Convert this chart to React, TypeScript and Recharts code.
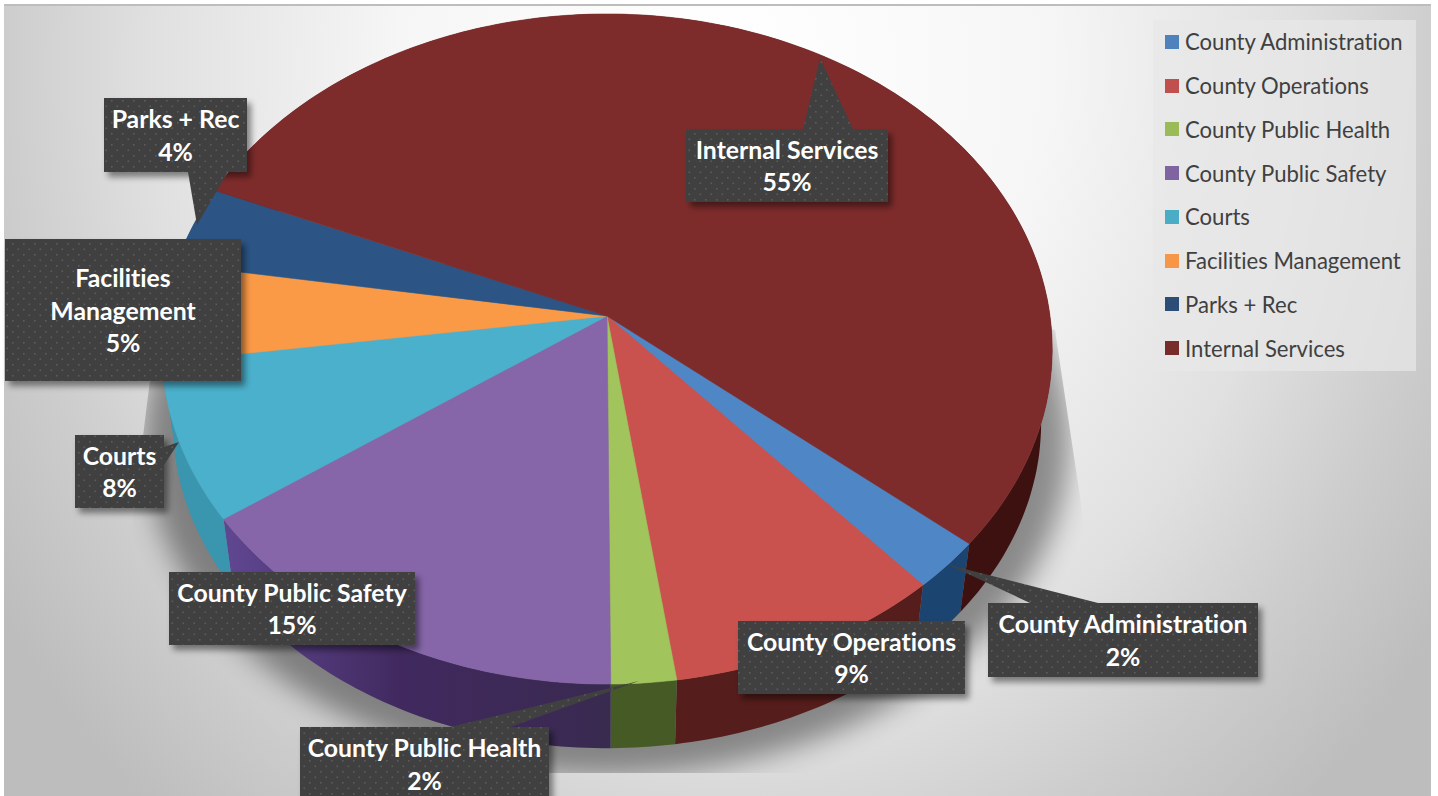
import React from "react";
import { PieChart, Pie, Legend } from "recharts";

const categories = [
  "County Administration",
  "County Operations",
  "County Public Health",
  "County Public Safety",
  "Courts",
  "Facilities Management",
  "Parks + Rec",
  "Internal Services",
];
const shares = [2.4, 9.2, 2.15, 15.3, 7.6, 4.7, 3.9, 54.6];
const legendColors = ["#4f81bd", "#c0504d", "#9bbb59", "#8064a2", "#4bacc6", "#f79646", "#2c4d75", "#772c2a"];
const faceColors = ["#4f86c6", "#c9524e", "#a2c45c", "#8666a9", "#4bb0cc", "#fa9a47", "#2c5585", "#7e2c2b"];
const wallColors = ["#1c4470", "#551d1b", "#465a26", "url(#safetyWall)", "#3a95ae", "#3a95ae", "#1f3a5c", "#3d1110"];

const pieData = categories.map((name, i) => ({
  name,
  value: shares[i],
  fill: legendColors[i],
  face: faceColors[i],
  wall: wallColors[i],
}));

// label boxes sit where the original chart had them dragged to
const labelBoxes = [
  { x: 988, y: 603, w: 270, h: 74, tip: [[1030, 603], [949, 565], [1098, 603]] },
  { x: 738, y: 621, w: 227, h: 73, tip: [] },
  { x: 300, y: 727, w: 249, h: 74, tip: [[450, 727], [639, 681], [510, 727]] },
  { x: 169, y: 572, w: 246, h: 73, tip: [] },
  { x: 75, y: 435, w: 89, h: 73, tip: [[164, 447], [179, 442], [164, 465]] },
  { x: 5, y: 239, w: 236, h: 142, tip: [], wrap: true },
  { x: 104, y: 98, w: 143, h: 74, tip: [[188, 172], [197, 225], [228, 172]] },
  { x: 686, y: 129, w: 202, h: 73, tip: [[803, 129], [820, 58], [853, 129]] },
];

const CX = 607;
const CY = 316;
const TILT = 0.0985;
const topRim = { a: 443, b: 331.8, y: CY };
const bottomRim = { a: 432, b: 322, y: 391 };

// circle on the tilted plane -> screen, so the hub stays off the ellipse centre
const project = (deg: number, rim: { a: number; b: number; y: number }) => {
  const rad = (deg * Math.PI) / 180;
  const u = Math.cos(rad);
  const v = -Math.sin(rad);
  const w = 1 - TILT * v;
  return [CX + (rim.a * u) / w, rim.y + (rim.b * v) / w];
};

const arc = (from: number, to: number, rim: { a: number; b: number; y: number }) => {
  const n = Math.max(2, Math.ceil(Math.abs(to - from)));
  const pts = [];
  for (let i = 0; i <= n; i++) pts.push(project(from + ((to - from) * i) / n, rim));
  return pts;
};

const toPath = (pts: number[][]) =>
  "M" + pts.map((p) => p[0].toFixed(1) + "," + p[1].toFixed(1)).join("L") + "Z";

const TopSlice = (props: any) => {
  const pts = [[CX, CY], ...arc(props.startAngle, props.endAngle, topRim)];
  return <path d={toPath(pts)} fill={props.payload.face} stroke={props.payload.face} strokeWidth={0.6} />;
};

const WallSlice = (props: any) => {
  const pts = [...arc(props.startAngle, props.endAngle, topRim), ...arc(props.endAngle, props.startAngle, bottomRim)];
  return <path d={toPath(pts)} fill={props.payload.wall} />;
};

const DataLabel = (props: any) => {
  const box = labelBoxes[props.index];
  const name: string = categories[props.index];
  const lines = box.wrap ? name.split(" ") : [name];
  lines.push(Math.round(shares[props.index]) + "%");
  const midY = box.y + box.h / 2;
  return (
    <g>
      <rect x={box.x} y={box.y} width={box.w} height={box.h} fill="url(#dots)" filter="url(#boxShadow)" />
      {box.tip.length > 0 && <polygon points={box.tip.map((p) => p.join(",")).join(" ")} fill="url(#dots)" />}
      {lines.map((line, i) => (
        <text
          key={line}
          x={box.x + box.w / 2}
          y={midY + (i - (lines.length - 1) / 2) * 32.5}
          textAnchor="middle"
          dominantBaseline="central"
          fill="#ffffff"
          fontFamily="Lato"
          fontWeight={700}
          fontSize={24.8}
          style={{ fontVariantLigatures: "none" }}
        >
          {line}
        </text>
      ))}
    </g>
  );
};

const LegendList = () => (
  <div
    style={{
      width: 263,
      height: 351,
      background: "rgba(232,232,232,0.72)",
      fontFamily: "Lato",
      fontSize: 22.1,
      color: "#404040",
      fontVariantLigatures: "none",
    }}
  >
    {categories.map((name, i) => (
      <div key={name} style={{ height: 43.75, display: "flex", alignItems: "center", whiteSpace: "nowrap" }}>
        <span style={{ width: 14, height: 14, marginLeft: 12, marginRight: 6, background: legendColors[i] }} />
        <span>{name}</span>
      </div>
    ))}
  </div>
);

const shadowPath = toPath(
  arc(0, 360, { a: bottomRim.a + 28, b: bottomRim.b + 10, y: bottomRim.y + 16 })
);

export default function App() {
  return (
    <div style={{ position: "fixed", left: 0, top: 0, width: 1438, height: 796, overflow: "hidden", background: "#fff" }}>
      <div
        style={{
          position: "absolute",
          left: 4,
          top: 4,
          width: 1427,
          height: 792,
          boxSizing: "border-box",
          borderTop: "2px solid #bdbdbd",
          background:
            "radial-gradient(ellipse 720px 830px at 720px 60px, #ffffff 0%, #f6f6f6 45%, #e0e0e0 80%, #cdcdcd 100%, #bdbdbd 120%)",
        }}
      />
      <svg width={1438} height={796} style={{ position: "absolute", left: 0, top: 0 }}>
        <defs>
          <filter id="pieShadow" x="-10%" y="-10%" width="120%" height="120%">
            <feGaussianBlur stdDeviation="14" />
          </filter>
          <clipPath id="shadowClip">
            <polygon points="150,380 130,540 130,773 1085,773 1085,530 1055,330 607,200" />
          </clipPath>
        </defs>
        <g clipPath="url(#shadowClip)">
          <path d={shadowPath} fill="#000" opacity={0.4} filter="url(#pieShadow)" />
        </g>
      </svg>
      <div style={{ position: "absolute", left: 0, top: 0 }}>
        <PieChart width={1438} height={796} margin={{ top: 0, right: 0, bottom: 0, left: 0 }}>
          <defs>
            <pattern id="dots" width="11" height="11" patternUnits="userSpaceOnUse">
              <rect width="11" height="11" fill="#404040" />
              <rect x="1" y="1" width="1.6" height="1.6" fill="#5c5c5c" />
              <rect x="6.5" y="6.5" width="1.6" height="1.6" fill="#5c5c5c" />
            </pattern>
            <linearGradient id="safetyWall" gradientUnits="userSpaceOnUse" x1="230" y1="0" x2="610" y2="0">
              <stop offset="0%" stopColor="#5f4690" />
              <stop offset="45%" stopColor="#41295f" />
              <stop offset="100%" stopColor="#392a50" />
            </linearGradient>
            <filter id="boxShadow" x="-15%" y="-20%" width="130%" height="150%">
              <feDropShadow dx="4" dy="5" stdDeviation="3" floodColor="#000" floodOpacity="0.45" />
            </filter>
          </defs>
          <Legend
            content={<LegendList />}
            wrapperStyle={{ position: "absolute", left: 1153, top: 20, right: "auto", bottom: "auto", width: 263 }}
          />
          <Pie
            data={pieData}
            dataKey="value"
            nameKey="name"
            cx={CX}
            cy={CY}
            outerRadius={443}
            startAngle={-40}
            endAngle={-400}
            legendType="none"
            shape={WallSlice}
            isAnimationActive={false}
          />
          <Pie
            data={pieData}
            dataKey="value"
            nameKey="name"
            cx={CX}
            cy={CY}
            outerRadius={443}
            startAngle={-40}
            endAngle={-400}
            shape={TopSlice}
            label={DataLabel}
            labelLine={false}
            isAnimationActive={false}
          />
        </PieChart>
      </div>
    </div>
  );
}
